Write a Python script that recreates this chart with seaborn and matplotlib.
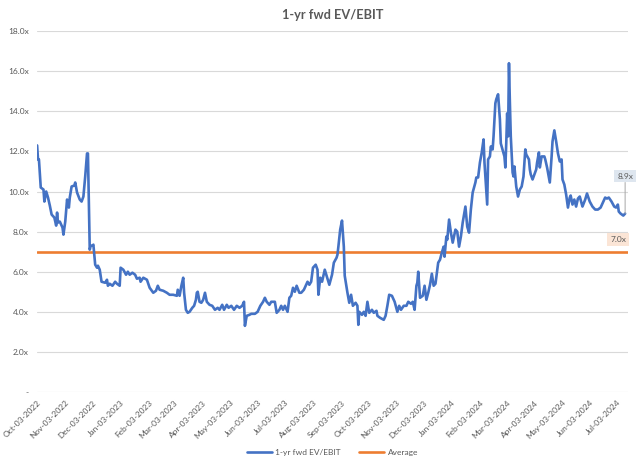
import matplotlib
matplotlib.use("Agg")
import matplotlib.pyplot as plt
import matplotlib.dates as mdates
import matplotlib.ticker as mticker
import seaborn as sns
import pandas as pd
import numpy as np

# ---------------- data ----------------
start_date = "2022-10-03"
day_offset = [
    0, 1, 2, 4, 7, 8, 10, 12, 14, 16, 19, 21, 22, 23, 25, 28, 29, 31, 33, 35,
    36, 38, 41, 42, 44, 47, 49, 51, 53, 55, 56, 58, 59, 61, 62, 64, 66, 67, 69, 71,
    75, 77, 78, 80, 83, 86, 88, 91, 92, 95, 98, 100, 102, 105, 108, 110, 113,
    114, 117, 121, 124, 128, 131, 133, 135, 139, 143, 146, 150, 154, 155, 157, 159,
    161, 162, 164, 166, 168, 171, 173, 175, 176, 177, 179, 181, 183, 185, 187, 188,
    190, 193, 196, 199, 201, 204, 206, 209, 211, 214, 217, 220, 223, 226, 228, 229,
    231, 234, 236, 240, 243, 246, 249, 251, 253, 256, 258, 262, 264, 267, 269, 271,
    273, 275, 276, 278, 280, 282, 284, 286, 289, 291, 294, 296, 298, 300, 302, 304,
    307, 309, 310, 312, 314, 317, 319, 322, 325, 327, 330, 331, 332, 334, 336, 338,
    339, 342, 344, 346, 348, 351, 353, 354, 355, 358, 360, 362, 364, 366, 369, 371,
    374, 375, 378, 382, 384, 386, 388, 391, 394, 397, 399, 401, 404, 407, 409, 412,
    414, 416, 418, 419, 420, 422, 425, 427, 429, 431, 433, 435, 437, 439, 441, 442,
    444, 446, 448, 449, 451, 452, 454, 456, 458, 461, 463, 465, 467, 469, 472, 474,
    476, 478, 480, 483, 484, 486, 488, 490, 492, 493, 495, 496, 497, 499, 500, 502,
    503, 505, 506, 508, 510, 511, 515, 516, 517, 518, 519, 520, 521, 522, 524, 525,
    526, 528, 530, 532, 534, 536, 538, 539, 542, 543, 544, 546, 550, 551, 553, 554,
    556, 559, 560, 562, 565, 567, 568, 570, 572, 574, 576, 578, 579, 581, 583, 585,
    587, 588, 590, 592, 594, 596, 598, 601, 604, 606, 609, 612, 615, 618, 621, 624,
    626, 628, 630, 633, 636, 638, 640, 641, 643, 646, 648,
]
ev_ebit = [
    12.3, 11.6, 11.6, 10.2, 10.1, 9.5, 10.0, 9.7, 9.3, 8.85, 8.7, 8.3, 8.95, 8.45, 8.5, 8.2, 7.85, 8.5, 9.6, 9.2,
    9.7, 10.25, 10.3, 10.45, 9.95, 9.6, 9.5, 9.75, 10.75, 11.9, 11.9, 7.1, 7.3, 7.3, 7.35, 6.35, 6.2, 6.3, 6.1, 5.5,
    5.45, 5.6, 5.3, 5.4, 5.3, 5.5, 5.4, 5.3, 6.2, 6.1, 5.85, 6.0, 5.85, 5.95, 5.85, 5.65, 5.7,
    5.5, 5.7, 5.6, 5.2, 4.95, 5.05, 5.3, 5.1, 5.05, 4.95, 4.85, 4.85, 4.8, 5.1, 4.8, 5.3,
    5.7, 4.95, 4.1, 3.95, 4.0, 4.2, 4.3, 4.6, 4.95, 5.0, 4.5, 4.45, 4.6, 4.95, 4.5, 4.45,
    4.35, 4.3, 4.1, 4.2, 4.1, 4.35, 4.1, 4.35, 4.2, 4.3, 4.1, 4.3, 4.2, 4.3, 4.5, 3.3,
    3.8, 3.85, 3.9, 3.9, 4.0, 4.3, 4.5, 4.7, 4.5, 4.35, 4.5, 4.5, 3.95, 4.1, 4.3, 4.1,
    4.3, 4.1, 4.0, 4.7, 4.8, 5.2, 5.0, 5.3, 4.95, 4.95, 5.1, 5.3, 5.5, 5.35, 5.5, 6.2,
    6.35, 6.1, 4.85, 5.7, 5.5, 6.1, 5.8, 5.35, 5.85, 6.45, 6.7, 6.85, 7.25, 8.1, 8.55, 7.25,
    5.8, 4.95, 4.45, 4.85, 4.3, 4.45, 4.3, 3.35, 4.0, 3.85, 4.0, 3.8, 4.5, 3.95, 4.1, 3.95,
    4.05, 3.8, 3.7, 3.6, 3.8, 4.3, 4.85, 4.8, 4.5, 4.0, 4.3, 4.1, 4.3, 4.3, 4.5, 4.4,
    4.5, 4.1, 5.3, 5.45, 6.0, 4.7, 4.8, 5.3, 4.6, 4.95, 5.35, 5.9, 5.3, 5.4, 6.1, 6.45,
    6.6, 6.95, 7.25, 6.75, 7.75, 7.6, 8.6, 7.95, 7.45, 8.1, 8.0, 7.25, 7.75, 8.45, 9.25, 8.25,
    7.95, 9.1, 9.95, 10.45, 10.7, 10.7, 11.45, 11.95, 12.6, 11.45, 10.1, 9.35, 11.6, 11.75, 12.25, 12.1,
    12.75, 14.4, 14.6, 14.85, 13.6, 12.4, 11.75, 11.2, 12.4, 13.9, 12.75, 16.4, 14.45, 12.75, 10.95, 10.75,
    11.25, 10.25, 9.75, 10.1, 10.25, 10.75, 12.1, 11.85, 11.6, 11.1, 10.85, 10.6, 11.1, 11.45, 11.95, 11.2,
    11.75, 11.75, 11.6, 11.2, 10.45, 11.75, 12.5, 13.05, 12.5, 11.9, 11.5, 11.6, 10.6, 10.35, 9.85, 9.2,
    9.7, 9.8, 9.35, 9.6, 9.25, 9.65, 9.75, 9.25, 9.6, 9.9, 9.5, 9.25, 9.1, 9.1, 9.2, 9.5,
    9.7, 9.65, 9.7, 9.5, 9.25, 9.2, 9.35, 9.0, 8.9, 8.8, 8.9,
]
average_value = 7.0
series_name = "1-yr fwd EV/EBIT"
average_name = "Average"
title_text = "1-yr fwd EV/EBIT"

# ---------------- build frame ----------------
dates = pd.Timestamp(start_date) + pd.to_timedelta(day_offset, unit="D")
df = pd.DataFrame({"date": dates, "value": ev_ebit})

BLUE = "#4472C4"
ORANGE = "#ED7D31"
TXT = "#595959"
GRID = "#D9D9D9"

sns.set_theme(style="white")
plt.rcParams["font.family"] = ["Lato", "DejaVu Sans"]

fig = plt.figure(figsize=(6.4, 4.65), dpi=100)
ax = fig.add_axes([0.058, 0.157, 0.923, 0.776])

sns.lineplot(data=df, x="date", y="value", ax=ax, color=BLUE, linewidth=1.9,
             label=series_name, zorder=3)
ax.axhline(average_value, color=ORANGE, linewidth=1.9, label=average_name, zorder=2)

# axes
ax.set_ylim(0, 18)
ax.yaxis.set_major_locator(mticker.MultipleLocator(2))
ax.yaxis.set_major_formatter(mticker.FuncFormatter(
    lambda v, p: "-" if abs(v) < 1e-9 else f"{v:.1f}x"))
ax.set_xlim(pd.Timestamp(start_date), pd.Timestamp(start_date) + pd.Timedelta(days=651))
ax.xaxis.set_major_locator(mdates.MonthLocator(bymonthday=3))
ax.xaxis.set_major_formatter(mdates.DateFormatter("%b-%d-%Y"))

ax.grid(axis="y", color=GRID, linewidth=0.8)
ax.set_axisbelow(True)
for s in ["top", "right", "left", "bottom"]:
    ax.spines[s].set_visible(False)
ax.tick_params(axis="both", length=0, colors=TXT, labelsize=6)
ax.tick_params(axis="y", pad=6)
ax.tick_params(axis="x", pad=5)
for lab in ax.get_xticklabels():
    lab.set_rotation(45)
    lab.set_ha("right")
    lab.set_rotation_mode("anchor")
ax.set_xlabel("")
ax.set_ylabel("")

ax.set_title(title_text, color=TXT, fontsize=9.2, fontweight="bold", pad=9)

# data labels
last_date = df["date"].iloc[-1]
last_val = df["value"].iloc[-1]
ax.annotate(f"{last_val:.1f}x", xy=(last_date, last_val), xytext=(0, 27),
            textcoords="offset points", ha="center", va="center",
            fontsize=6, color=TXT,
            bbox=dict(boxstyle="square,pad=0.35", fc="#DEE6EF", ec="none"),
            arrowprops=dict(arrowstyle="-", color="#A6A6A6", lw=0.7,
                            shrinkA=0, shrinkB=0))
ax.annotate(f"{average_value:.1f}x", xy=(last_date, average_value), xytext=(-5, 8.6),
            textcoords="offset points", ha="center", va="center",
            fontsize=6, color=TXT,
            bbox=dict(boxstyle="square,pad=0.35", fc="#FBE5D6", ec="none"))

leg = ax.legend(loc="center", bbox_to_anchor=(0.5, -0.168), ncol=2,
                frameon=False, fontsize=6, handlelength=3.0, columnspacing=2.2,
                handletextpad=0.4)
for t in leg.get_texts():
    t.set_color(TXT)

fig.savefig("out.png", dpi=100, facecolor="white")
